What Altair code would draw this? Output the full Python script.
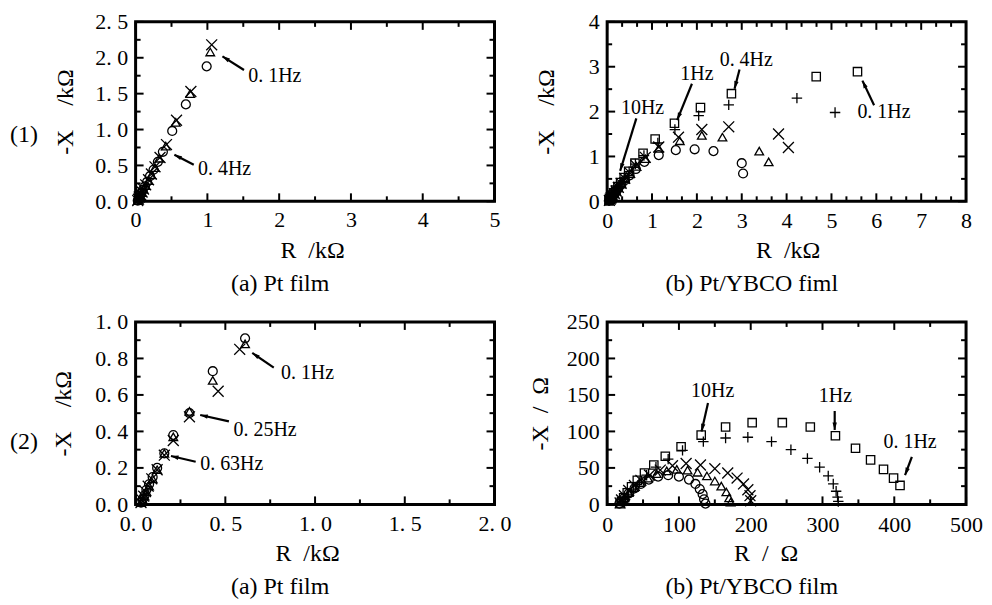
import math
import altair as alt
import pandas as pd

FONT = "Liberation Serif"
W = 360
H_TOP = 180
H_BOT = 183
COL_GAP = 113
ROW_GAP = 121

# ---------------- Panel (1)(a): Pt film, kOhm ----------------
p1_circle_R = [0.99, 0.70, 0.51, 0.38, 0.31, 0.25, 0.20, 0.16, 0.13, 0.10, 0.08, 0.06, 0.05, 0.04, 0.03]
p1_circle_X = [1.88, 1.35, 0.98, 0.69, 0.55, 0.44, 0.35, 0.27, 0.21, 0.16, 0.12, 0.08, 0.05, 0.03, 0.01]
p1_tri_R = [1.04, 0.76, 0.56, 0.42, 0.33, 0.27, 0.22, 0.18, 0.14, 0.11, 0.09, 0.07, 0.05, 0.04, 0.03]
p1_tri_X = [2.08, 1.50, 1.10, 0.77, 0.60, 0.47, 0.37, 0.29, 0.22, 0.17, 0.12, 0.08, 0.05, 0.03, 0.01]
p1_cross_R = [1.06, 0.77, 0.57, 0.43, 0.34, 0.27, 0.22, 0.18, 0.14, 0.11, 0.09, 0.07, 0.05, 0.04, 0.03]
p1_cross_X = [2.18, 1.53, 1.13, 0.79, 0.61, 0.48, 0.38, 0.30, 0.23, 0.17, 0.13, 0.09, 0.06, 0.03, 0.01]

# ---------------- Panel (1)(b): Pt/YBCO, kOhm ----------------
p2_sq_R = [5.58, 4.66, 2.77, 2.08, 1.50, 1.07, 0.80, 0.62, 0.48, 0.38, 0.30, 0.24, 0.19, 0.15, 0.12, 0.09, 0.07, 0.05, 0.04]
p2_sq_X = [2.89, 2.78, 2.40, 2.09, 1.74, 1.39, 1.07, 0.85, 0.67, 0.53, 0.42, 0.33, 0.25, 0.19, 0.14, 0.10, 0.06, 0.03, 0.01]
p2_plus_R = [5.08, 4.23, 2.71, 2.04, 1.51, 1.13, 0.82, 0.63, 0.49, 0.38, 0.30, 0.24, 0.19, 0.15, 0.12, 0.09, 0.07, 0.05, 0.04]
p2_plus_X = [1.98, 2.30, 2.15, 1.91, 1.60, 1.30, 1.02, 0.83, 0.66, 0.52, 0.41, 0.32, 0.24, 0.18, 0.13, 0.09, 0.06, 0.03, 0.01]
p2_cross_R = [4.04, 3.82, 2.71, 2.11, 1.59, 1.15, 0.85, 0.64, 0.50, 0.39, 0.31, 0.25, 0.20, 0.16, 0.12, 0.09, 0.07, 0.05]
p2_cross_X = [1.20, 1.50, 1.66, 1.60, 1.43, 1.21, 0.98, 0.80, 0.64, 0.51, 0.40, 0.31, 0.23, 0.17, 0.12, 0.08, 0.05, 0.02]
p2_tri_R = [3.60, 3.39, 2.57, 2.11, 1.62, 1.15, 0.85, 0.65, 0.51, 0.40, 0.32, 0.25, 0.20, 0.16, 0.12, 0.09, 0.07, 0.05]
p2_tri_X = [0.88, 1.12, 1.43, 1.47, 1.35, 1.18, 0.95, 0.78, 0.62, 0.50, 0.39, 0.30, 0.23, 0.17, 0.12, 0.08, 0.05, 0.02]
p2_circle_R = [3.03, 3.00, 2.37, 1.95, 1.53, 1.15, 0.83, 0.64, 0.50, 0.40, 0.32, 0.25, 0.20, 0.16, 0.12, 0.09, 0.07, 0.05]
p2_circle_X = [0.62, 0.85, 1.12, 1.16, 1.14, 1.03, 0.88, 0.72, 0.58, 0.47, 0.38, 0.29, 0.22, 0.16, 0.11, 0.07, 0.04, 0.02]

# ---------------- Panel (2)(a): Pt film, kOhm ----------------
p3_circle_R = [0.61, 0.43, 0.30, 0.21, 0.16, 0.12, 0.095, 0.075, 0.06, 0.05, 0.04, 0.03]
p3_circle_X = [0.91, 0.73, 0.50, 0.38, 0.28, 0.20, 0.15, 0.11, 0.08, 0.05, 0.03, 0.01]
p3_tri_R = [0.61, 0.43, 0.30, 0.21, 0.16, 0.12, 0.095, 0.075, 0.06, 0.05, 0.04, 0.03]
p3_tri_X = [0.88, 0.68, 0.51, 0.37, 0.28, 0.19, 0.14, 0.10, 0.07, 0.045, 0.025, 0.01]
p3_cross_R = [0.58, 0.46, 0.30, 0.21, 0.16, 0.12, 0.09, 0.07, 0.055, 0.045, 0.035, 0.03]
p3_cross_X = [0.85, 0.62, 0.48, 0.35, 0.27, 0.19, 0.14, 0.10, 0.07, 0.045, 0.025, 0.01]

# ---------------- Panel (2)(b): Pt/YBCO, Ohm ----------------
p4_sq_R = [408, 399, 385, 367, 346, 318, 283, 244, 202, 165, 131, 103, 81, 65, 52, 42, 34, 28, 23, 20, 18]
p4_sq_X = [26, 36, 48, 61, 77, 94, 106, 112, 112, 106, 95, 79, 66, 54, 43, 33, 24, 16, 9, 4, 1]
p4_plus_R = [322, 321, 319, 315, 308, 296, 279, 256, 229, 196, 165, 134, 105, 85, 68, 55, 45, 37, 30, 25, 22]
p4_plus_X = [4, 10, 18, 28, 39, 51, 63, 75, 86, 92, 91, 86, 74, 62, 51, 40, 30, 21, 13, 7, 3]
p4_cross_R = [200, 199, 196, 190, 181, 168, 150, 130, 110, 91, 74, 59, 47, 38, 30, 24, 20, 18]
p4_cross_X = [5, 12, 20, 28, 36, 43, 49, 54, 56, 53, 47, 40, 33, 26, 19, 12, 6, 2]
p4_tri_R = [172, 170, 166, 159, 150, 139, 126, 112, 97, 83, 69, 57, 46, 37, 30, 24, 20]
p4_tri_X = [3, 9, 17, 25, 32, 39, 44, 47, 48, 46, 42, 36, 30, 23, 16, 9, 4]
p4_circle_R = [137, 135, 133, 129, 123, 114, 100, 85, 71, 58, 47, 38, 30, 24, 20, 17]
p4_circle_X = [1, 7, 14, 21, 28, 34, 38, 40, 38, 34, 28, 22, 15, 9, 4, 1]

# ---------------- annotations (data coordinates) ----------------
p1_notes = {"label": ["0. 1Hz", "0. 4Hz"], "tx": [1.57, 0.87], "ty": [1.74, 0.45]}
p1_arrows = {"x1": [1.51, 0.81], "y1": [1.83, 0.51], "x2": [1.21, 0.54], "y2": [2.02, 0.65]}
p2_notes = {"label": ["10Hz", "1Hz", "0. 4Hz", "0. 1Hz"], "tx": [0.79, 2.0, 3.10, 6.17], "ty": [2.07, 2.83, 3.16, 2.0]}
p2_arrows = {"x1": [0.65, 1.89, 2.95, 5.95], "y1": [1.85, 2.62, 2.94, 2.14],
             "x2": [0.29, 1.56, 2.84, 5.69], "y2": [0.68, 1.81, 2.51, 2.69]}
p3_notes = {"label": ["0. 1Hz", "0. 25Hz", "0. 63Hz"], "tx": [0.81, 0.546, 0.36], "ty": [0.72, 0.41, 0.22]}
p3_arrows = {"x1": [0.77, 0.52, 0.335], "y1": [0.75, 0.455, 0.234],
             "x2": [0.65, 0.36, 0.197], "y2": [0.83, 0.49, 0.265]}
p4_notes = {"label": ["10Hz", "1Hz", "0. 1Hz"], "tx": [147, 318, 422], "ty": [155, 148, 86]}
p4_arrows = {"x1": [140.5, 317, 424.5], "y1": [139, 128, 65], "x2": [131.5, 317, 415], "y2": [100, 102, 40]}

SHAPE = {
    "square": "square",
    "plus": "M-1,0L1,0M0,-1L0,1",
    "cross": "M-1,-1L1,1M-1,1L1,-1",
    "triangle": "triangle-up",
    "circle": "circle",
}
SIZE = {"square": 70, "plus": 110, "cross": 120, "triangle": 75, "circle": 80}
HEAD = "M0,0L0.7,2.4L-0.7,2.4Z"

FMT_INT = "format(datum.value, 'd')"
FMT_DEC = "replace(format(datum.value, '.1f'), '.', '. ')"


def build_panel(series, xdom, ydom, H, xlab, ylab, xminor, yminor, xfmt, yfmt,
                xtitle, ytitle, xtitle_x, ytitle_x, notes, note_align, arrows,
                caption, tag, tag_y, xlab_pad):
    xsc = alt.Scale(domain=xdom, nice=False, zero=False)
    ysc = alt.Scale(domain=ydom, nice=False, zero=False)
    xaxis = alt.Axis(values=xlab, labelExpr=xfmt, ticks=False, tickSize=0, domain=False, grid=False,
                     labelFont=FONT, labelFontSize=22, labelColor="black", labelPadding=xlab_pad,
                     labelOverlap=False, labelFlush=False,
                     title=xtitle, titleFont=FONT, titleFontSize=24, titleFontWeight="normal",
                     titleColor="black", titleX=xtitle_x, titleY=49, titleBaseline="middle",
                     titleAlign="center")
    yaxis = alt.Axis(values=ylab, labelExpr=yfmt, ticks=False, tickSize=0, domain=False, grid=False,
                     labelFont=FONT, labelFontSize=22, labelColor="black", labelPadding=8,
                     labelOverlap=False, labelFlush=False,
                     title=ytitle, titleFont=FONT, titleFontSize=24, titleFontWeight="normal",
                     titleColor="black", titleX=ytitle_x, titleY=H / 2, titleBaseline="middle",
                     titleAlign="center", titleAngle=270)

    def X(field):
        return alt.X(field, scale=xsc, axis=xaxis)

    def Y(field):
        return alt.Y(field, scale=ysc, axis=yaxis)

    layers = []
    for name, (rs, vs) in series.items():
        df = pd.DataFrame({"R": rs, "X": vs})
        layers.append(
            alt.Chart(df).mark_point(shape=SHAPE[name], size=SIZE[name], filled=False,
                                     color="black", strokeWidth=1.3, opacity=1).encode(
                x=X("R:Q"), y=Y("X:Q"))
        )

    # inward ticks on all four sides
    for vals, ln in ((xlab, 8), (xminor, 5)):
        d = pd.DataFrame({"R": vals})
        base = alt.Chart(d).mark_rule(color="black", strokeWidth=2)
        layers.append(base.encode(x=X("R:Q"), y=alt.value(H), y2=alt.value(H - ln)))
        layers.append(base.encode(x=X("R:Q"), y=alt.value(0), y2=alt.value(ln)))
    for vals, ln in ((ylab, 8), (yminor, 5)):
        d = pd.DataFrame({"X": vals})
        base = alt.Chart(d).mark_rule(color="black", strokeWidth=2)
        layers.append(base.encode(y=Y("X:Q"), x=alt.value(0), x2=alt.value(ln)))
        layers.append(base.encode(y=Y("X:Q"), x=alt.value(W), x2=alt.value(W - ln)))

    # annotation texts
    ndf = pd.DataFrame(notes)
    layers.append(
        alt.Chart(ndf).mark_text(font=FONT, fontSize=20, align=note_align, baseline="middle", color="black").encode(
            x=X("tx:Q"), y=Y("ty:Q"), text="label:N")
    )
    # arrows
    adf = pd.DataFrame(arrows)
    pxx = W / (xdom[1] - xdom[0])
    pxy = H / (ydom[1] - ydom[0])
    adf["a"] = [
        math.degrees(math.atan2((x2 - x1) * pxx, (y2 - y1) * pxy)) % 360
        for x1, y1, x2, y2 in zip(adf.x1, adf.y1, adf.x2, adf.y2)
    ]
    layers.append(
        alt.Chart(adf).mark_rule(color="black", strokeWidth=2.2).encode(
            x=X("x1:Q"), y=Y("y1:Q"), x2="x2:Q", y2="y2:Q")
    )
    layers.append(
        alt.Chart(adf).mark_point(shape=HEAD, size=40, filled=True, color="black", opacity=1).encode(
            x=X("x2:Q"), y=Y("y2:Q"), angle=alt.Angle("a:Q", scale=None))
    )
    # caption below and row tag to the left
    layers.append(
        alt.Chart(pd.DataFrame({"t": [caption]})).mark_text(
            font=FONT, fontSize=24, align="center", baseline="middle", color="black").encode(
            text="t:N", x=alt.value(145), y=alt.value(H + 83))
    )
    if tag:
        layers.append(
            alt.Chart(pd.DataFrame({"t": [tag]})).mark_text(
                font=FONT, fontSize=24, align="left", baseline="middle", color="black").encode(
                text="t:N", x=alt.value(-126), y=alt.value(tag_y))
        )
    return alt.layer(*layers).properties(width=W, height=H)


p1 = build_panel(
    {"circle": (p1_circle_R, p1_circle_X), "triangle": (p1_tri_R, p1_tri_X), "cross": (p1_cross_R, p1_cross_X)},
    [0, 5], [0, 2.5], H_TOP, [0, 1, 2, 3, 4, 5], [0, 0.5, 1.0, 1.5, 2.0, 2.5],
    [0.5, 1.5, 2.5, 3.5, 4.5], [0.25, 0.75, 1.25, 1.75, 2.25], FMT_INT, FMT_DEC,
    "R\u2002/k\u03a9", "-X\u2003/k\u03a9", 177, -70, p1_notes, "left", p1_arrows,
    "(a) Pt film", "(1)", 113, 8)

p2 = build_panel(
    {"square": (p2_sq_R, p2_sq_X), "plus": (p2_plus_R, p2_plus_X), "cross": (p2_cross_R, p2_cross_X),
     "triangle": (p2_tri_R, p2_tri_X), "circle": (p2_circle_R, p2_circle_X)},
    [0, 8], [0, 4], H_TOP, [0, 1, 2, 3, 4, 5, 6, 7, 8], [0, 1, 2, 3, 4],
    [1 / 3, 2 / 3, 4 / 3, 5 / 3, 7 / 3, 8 / 3, 10 / 3, 11 / 3, 13 / 3, 14 / 3, 16 / 3, 17 / 3, 19 / 3, 20 / 3, 22 / 3, 23 / 3],
    [0.5, 1.5, 2.5, 3.5], FMT_INT, FMT_INT,
    "R\u2002/k\u03a9", "-X\u2003/k\u03a9", 181, -61, p2_notes, "center", p2_arrows,
    "(b) Pt/YBCO fiml", None, 0, 9)

p3 = build_panel(
    {"circle": (p3_circle_R, p3_circle_X), "triangle": (p3_tri_R, p3_tri_X), "cross": (p3_cross_R, p3_cross_X)},
    [0, 2], [0, 1], H_BOT, [0, 0.5, 1.0, 1.5, 2.0], [0, 0.2, 0.4, 0.6, 0.8, 1.0],
    [0.25, 0.75, 1.25, 1.75], [0.1, 0.3, 0.5, 0.7, 0.9], FMT_DEC, FMT_DEC,
    "R\u2002/k\u03a9", "-X\u2003/k\u03a9", 172, -72, p3_notes, "left", p3_arrows,
    "(a) Pt film", "(2)", 120, 9)

p4 = build_panel(
    {"square": (p4_sq_R, p4_sq_X), "plus": (p4_plus_R, p4_plus_X), "cross": (p4_cross_R, p4_cross_X),
     "triangle": (p4_tri_R, p4_tri_X), "circle": (p4_circle_R, p4_circle_X)},
    [0, 500], [0, 250], H_BOT, [0, 100, 200, 300, 400, 500], [0, 50, 100, 150, 200, 250],
    [50, 150, 250, 350, 450], [25, 75, 125, 175, 225], FMT_INT, FMT_INT,
    "R\u2002/\u2002\u03a9", "-X\u2002/\u2002\u03a9", 159, -67, p4_notes, "center", p4_arrows,
    "(b) Pt/YBCO film", None, 0, 10)

chart = alt.ConcatChart(
    concat=[p1, p2, p3, p4], columns=2,
    spacing={"row": ROW_GAP, "column": COL_GAP}, bounds="flush",
).configure_view(stroke="black", strokeWidth=3, fill="white").properties(
    padding=0, background="white")

chart.save("out.html", embed_options={"renderer": "svg", "actions": False})
